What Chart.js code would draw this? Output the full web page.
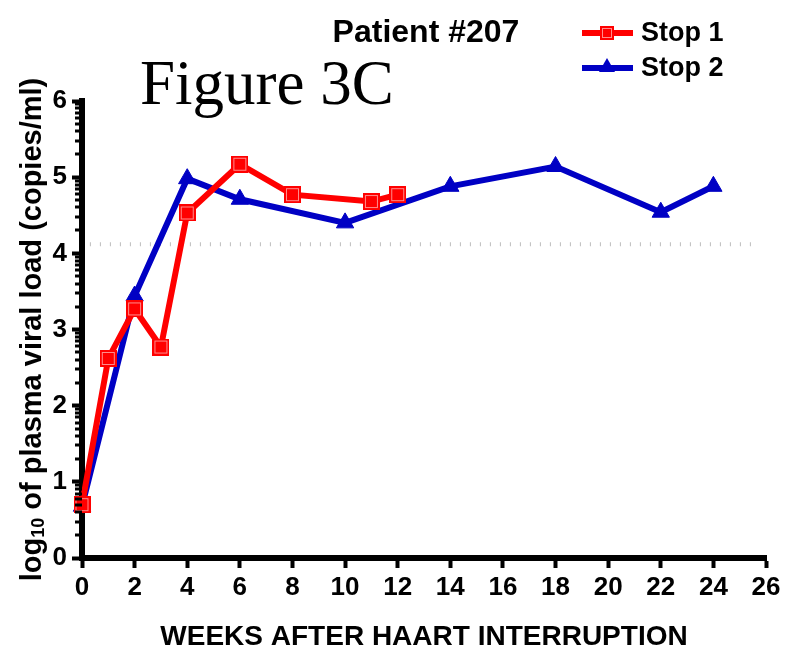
<!DOCTYPE html>
<html>
<head>
<meta charset="utf-8">
<script src="https://cdn.jsdelivr.net/npm/chart.js@4.4.1/dist/chart.umd.min.js"></script>
<style>
  html, body { margin:0; padding:0; background:#fff; }
  #wrap { width:788px; height:651px; }
</style>
</head>
<body>
<div id="wrap"><canvas id="chart" width="788" height="651"></canvas></div>
<script>
// Figure 3C · patient #207, log10 viral load after each HAART stop
const STOP1_WEEKS = [0, 1, 2, 3, 4, 6, 8, 11, 12];
const STOP1_LOAD  = [0.70, 2.62, 3.27, 2.77, 4.53, 5.17, 4.77, 4.68, 4.77];
const STOP2_WEEKS = [0, 2, 4, 6, 10, 14, 18, 22, 24];
const STOP2_LOAD  = [0.68, 3.44, 4.98, 4.71, 4.40, 4.88, 5.14, 4.54, 4.88];
const LIMIT_WEEKS = [0.3, 25.6];
const LIMIT_LOAD  = 4.12;
const SERIES_NAMES = ['Stop 1', 'Stop 2'];
const X_TICKS = [0, 2, 4, 6, 8, 10, 12, 14, 16, 18, 20, 22, 24, 26];
const Y_TICKS = [0, 1, 2, 3, 4, 5, 6];

const RED = '#FF0000';
const BLUE = '#0000C4';
const SANS = '"Liberation Sans", Arial, sans-serif';

function squareMarker(size) {
  const c = document.createElement('canvas');
  c.width = c.height = size;
  const g = c.getContext('2d');
  g.fillStyle = RED;
  g.fillRect(0, 0, size, size);
  g.strokeStyle = 'rgba(255,255,255,0.55)';
  g.lineWidth = 1;
  g.strokeRect(2.5, 2.5, size - 5, size - 5);
  return c;
}
const SQUARE_BIG = squareMarker(17);
const SQUARE_SMALL = squareMarker(14);

const pts = (xs, ys) => xs.map((x, i) => ({ x, y: Array.isArray(ys) ? ys[i] : ys }));

// small log-style ticks between the whole decades of the y axis
const minorTicks = {
  id: 'minorTicks',
  afterDraw(chart) {
    const { ctx, chartArea } = chart;
    const y = chart.scales.y;
    ctx.save();
    ctx.strokeStyle = '#000';
    ctx.lineWidth = 3;
    for (let d = 0; d < Y_TICKS.length - 1; d++) {
      for (let k = 2; k <= 9; k++) {
        const py = Math.round(y.getPixelForValue(Y_TICKS[d] + Math.log10(k)));
        ctx.beginPath();
        ctx.moveTo(chartArea.left - 7, py);
        ctx.lineTo(chartArea.left, py);
        ctx.stroke();
      }
    }
    ctx.restore();
  }
};

const overlayText = {
  id: 'overlayText',
  afterDraw(chart) {
    const { ctx, chartArea } = chart;
    ctx.save();
    ctx.fillStyle = '#000';
    ctx.textBaseline = 'alphabetic';

    ctx.font = 'bold 32px ' + SANS;
    ctx.textAlign = 'center';
    ctx.fillText('Patient #207', 426, 42);

    ctx.font = '63px "Liberation Serif", "Times New Roman", serif';
    ctx.textAlign = 'left';
    ctx.fillText('Figure 3C', 140, 104);

    // legend
    const rows = [
      { name: SERIES_NAMES[0], color: RED, y: 33, mark: 'square' },
      { name: SERIES_NAMES[1], color: BLUE, y: 68, mark: 'triangle' },
    ];
    rows.forEach(r => {
      ctx.strokeStyle = r.color;
      ctx.lineWidth = 6;
      ctx.beginPath();
      ctx.moveTo(582, r.y);
      ctx.lineTo(633, r.y);
      ctx.stroke();
      if (r.mark === 'square') {
        ctx.drawImage(SQUARE_SMALL, 607 - 7, r.y - 7);
      } else {
        ctx.fillStyle = r.color;
        ctx.beginPath();
        ctx.moveTo(607, r.y - 10);
        ctx.lineTo(615, r.y + 4);
        ctx.lineTo(599, r.y + 4);
        ctx.closePath();
        ctx.fill();
      }
      ctx.fillStyle = '#000';
      ctx.font = 'bold 27px ' + SANS;
      ctx.textAlign = 'left';
      ctx.textBaseline = 'middle';
      ctx.fillText(r.name, 641, r.y + 1);
    });

    // y title with subscript
    ctx.textBaseline = 'alphabetic';
    const big = 'bold 29px ' + SANS;
    const small = 'bold 18px ' + SANS;
    const parts = [['log', big, 0], ['10', small, 3], [' of plasma viral load (copies/ml)', big, 0]];
    let total = 0;
    parts.forEach(p => { ctx.font = p[1]; total += ctx.measureText(p[0]).width; });
    ctx.translate(41, (chartArea.top + chartArea.bottom) / 2);
    ctx.rotate(-Math.PI / 2);
    let x = -total / 2;
    parts.forEach(p => {
      ctx.font = p[1];
      ctx.fillText(p[0], x, p[2]);
      x += ctx.measureText(p[0]).width;
    });
    ctx.restore();

    ctx.save();
    ctx.fillStyle = '#000';
    ctx.font = 'bold 28px ' + SANS;
    ctx.textAlign = 'center';
    ctx.textBaseline = 'alphabetic';
    ctx.fillText('WEEKS AFTER HAART INTERRUPTION', 424, 645);
    ctx.restore();
  }
};

const tickFont = { family: SANS, size: 26, weight: 'bold' };

new Chart(document.getElementById('chart'), {
  type: 'line',
  data: {
    datasets: [
      {
        label: SERIES_NAMES[0],
        data: pts(STOP1_WEEKS, STOP1_LOAD),
        borderColor: RED, borderWidth: 6,
        pointStyle: SQUARE_BIG, pointRadius: 9,
        order: 1, clip: false,
      },
      {
        label: SERIES_NAMES[1],
        data: pts(STOP2_WEEKS, STOP2_LOAD),
        borderColor: BLUE, borderWidth: 6,
        pointStyle: 'triangle', pointRadius: 10,
        pointBackgroundColor: BLUE, pointBorderColor: BLUE, pointBorderWidth: 1,
        order: 2, clip: false,
      },
      {
        label: 'limit',
        data: pts(LIMIT_WEEKS, LIMIT_LOAD),
        borderColor: '#bdbdbd', borderWidth: 4, borderDash: [1, 9],
        pointRadius: 0, order: 3,
      },
    ],
  },
  options: {
    responsive: false,
    animation: false,
    devicePixelRatio: 1,
    layout: { padding: { top: 101, right: 22, left: 0, bottom: 0 } },
    plugins: { legend: { display: false }, tooltip: { enabled: false }, title: { display: false } },
    scales: {
      x: {
        type: 'linear', min: 0, max: 26,
        afterBuildTicks: s => { s.ticks = X_TICKS.map(v => ({ value: v })); },
        afterFit: s => { s.height = 93; },
        grid: { display: true, drawOnChartArea: false, drawTicks: true, tickLength: 10, tickWidth: 4, tickColor: '#000' },
        border: { display: true, color: '#000', width: 6 },
        ticks: { color: '#000', font: tickFont, padding: 4, maxRotation: 0, autoSkip: false },
      },
      y: {
        type: 'linear', min: 0, max: 6,
        afterBuildTicks: s => { s.ticks = Y_TICKS.map(v => ({ value: v })); },
        afterFit: s => { s.width = 82; },
        grid: { display: true, drawOnChartArea: false, drawTicks: true, tickLength: 10, tickWidth: 4, tickColor: '#000' },
        border: { display: true, color: '#000', width: 6 },
        ticks: { color: '#000', font: tickFont, padding: 5, autoSkip: false },
      },
    },
  },
  plugins: [minorTicks, overlayText],
});
</script>
</body>
</html>
